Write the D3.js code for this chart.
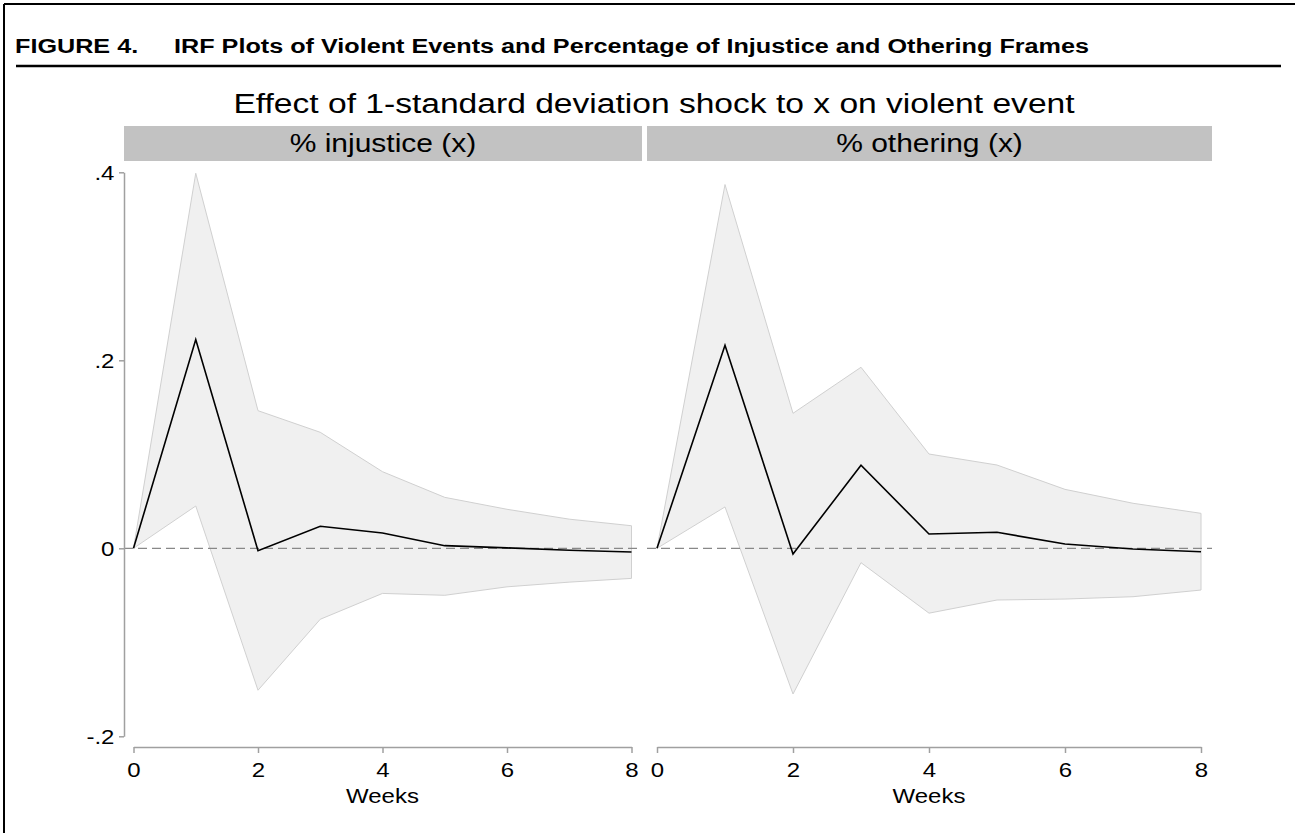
<!DOCTYPE html>
<html lang="en">
<head>
    <meta charset="UTF-8">
    <title>IRF Plots</title>
    <script src="https://cdnjs.cloudflare.com/ajax/libs/d3/7.8.5/d3.min.js"></script>
    <style>
        body { margin: 0; background: #fff; }
        text { font-family: "Liberation Sans", Arial, Helvetica, sans-serif; fill: #000; }
        .axis path, .axis line { stroke: #a0a0a0; stroke-width: 1.5; }
        .axis text { font-size: 20px; fill: #000; }
        .band { fill: #f0f0f0; stroke: #d0d0d0; stroke-width: 1; }
        .irf { fill: none; stroke: #000; stroke-width: 1.6; }
        .zero { stroke: #888; stroke-width: 1.2; stroke-dasharray: 9,5; }
    </style>
</head>
<body>
<script>
    // data
    var weeks = [0, 1, 2, 3, 4, 5, 6, 7, 8];
    var panels = ["% injustice (x)", "% othering (x)"];

    var injIrf = [0, 0.222, -0.0025, 0.0234, 0.0163, 0.0028, 0.0005, -0.002, -0.004];
    var injLo  = [0, 0.045, -0.151, -0.0755, -0.048, -0.050, -0.041, -0.036, -0.032];
    var injHi  = [0, 0.399, 0.1464, 0.1234, 0.0815, 0.0542, 0.0415, 0.031, 0.024];

    var othIrf = [0, 0.216, -0.006, 0.0883, 0.0152, 0.017, 0.0046, -0.0007, -0.0036];
    var othLo  = [0, 0.044, -0.155, -0.0153, -0.069, -0.055, -0.054, -0.0515, -0.0444];
    var othHi  = [0, 0.387, 0.1436, 0.1926, 0.1003, 0.0886, 0.0627, 0.0479, 0.0372];

    var xTicks = [0, 2, 4, 6, 8];
    var yTicks = [-0.2, 0, 0.2, 0.4];
    var yTickLabels = ["-.2", "0", ".2", ".4"];

    var W = 1295, H = 833;
    // the original picture is stretched sideways, so text is too
    var SX = 1.2;

    var svg = d3.select("body").append("svg")
        .attr("width", W)
        .attr("height", H);

    // helper: text placed at x,y and widened by SX
    function label(sel, x, y, size, txt) {
        return sel.append("text")
            .attr("transform", "translate(" + x + "," + y + ") scale(" + SX + ",1)")
            .style("font-size", size + "px")
            .text(txt);
    }

    // frame + figure caption
    svg.append("line").attr("x1", 4).attr("x2", W).attr("y1", 4).attr("y2", 4)
        .attr("stroke", "#000").attr("stroke-width", 2);
    svg.append("line").attr("x1", 4).attr("x2", 4).attr("y1", 4).attr("y2", H)
        .attr("stroke", "#000").attr("stroke-width", 2);

    label(svg, 15, 53, 21, "FIGURE 4.").style("font-weight", "bold");
    label(svg, 174, 53, 21, "IRF Plots of Violent Events and Percentage of Injustice and Othering Frames")
        .style("font-weight", "bold");

    svg.append("line").attr("x1", 16).attr("x2", 1281).attr("y1", 66).attr("y2", 66)
        .attr("stroke", "#000").attr("stroke-width", 2.5);

    label(svg, 654, 113, 28, "Effect of 1-standard deviation shock to x on violent event")
        .attr("text-anchor", "middle");

    // shared y scale
    var y = d3.scaleLinear().domain([-0.2, 0.4]).range([736.3, 172.3]);

    // panel geometry
    var layout = [
        {head: [124, 642], plot: [133.5, 631.5], irf: injIrf, lo: injLo, hi: injHi, yaxis: true},
        {head: [647, 1212], plot: [657, 1201], irf: othIrf, lo: othLo, hi: othHi, yaxis: false}
    ];

    layout.forEach(function(p, k) {
        var x = d3.scaleLinear().domain([0, 8]).range(p.plot);
        var g = svg.append("g");

        // header strip
        g.append("rect")
            .attr("x", p.head[0]).attr("y", 126)
            .attr("width", p.head[1] - p.head[0]).attr("height", 35)
            .attr("fill", "#c2c2c2");
        label(g, (p.head[0] + p.head[1]) / 2, 152, 25, panels[k])
            .attr("text-anchor", "middle");

        var rows = weeks.map(function(w, i) {
            return {w: w, irf: p.irf[i], lo: p.lo[i], hi: p.hi[i]};
        });

        var area = d3.area()
            .x(function(d) { return x(d.w); })
            .y0(function(d) { return y(d.lo); })
            .y1(function(d) { return y(d.hi); });

        var line = d3.line()
            .x(function(d) { return x(d.w); })
            .y(function(d) { return y(d.irf); });

        g.append("path").datum(rows).attr("class", "band").attr("d", area);

        g.append("line").attr("class", "zero")
            .attr("x1", p.head[0]).attr("x2", p.head[1])
            .attr("y1", y(0)).attr("y2", y(0));

        g.append("path").datum(rows).attr("class", "irf").attr("d", line);

        // x axis
        g.append("g").attr("class", "axis")
            .attr("transform", "translate(0,747)")
            .call(d3.axisBottom(x).tickValues(xTicks).tickSize(6).tickSizeOuter(0).tickPadding(7))
            .selectAll("text")
            .attr("dy", "0.85em")
            .attr("transform", "scale(" + SX + ",1)");

        label(g, (p.plot[0] + p.plot[1]) / 2, 803, 20, "Weeks")
            .attr("text-anchor", "middle");

        // y axis only on the first panel
        if (p.yaxis) {
            g.append("g").attr("class", "axis")
                .attr("transform", "translate(124,0)")
                .call(d3.axisLeft(y).tickValues(yTicks).tickSize(5).tickSizeOuter(0).tickPadding(3)
                    .tickFormat(function(d, i) { return yTickLabels[i]; }))
                .selectAll("text")
                .attr("dy", "0.36em")
                .attr("transform", "scale(" + SX + ",1)");
        }
    });
</script>
</body>
</html>
